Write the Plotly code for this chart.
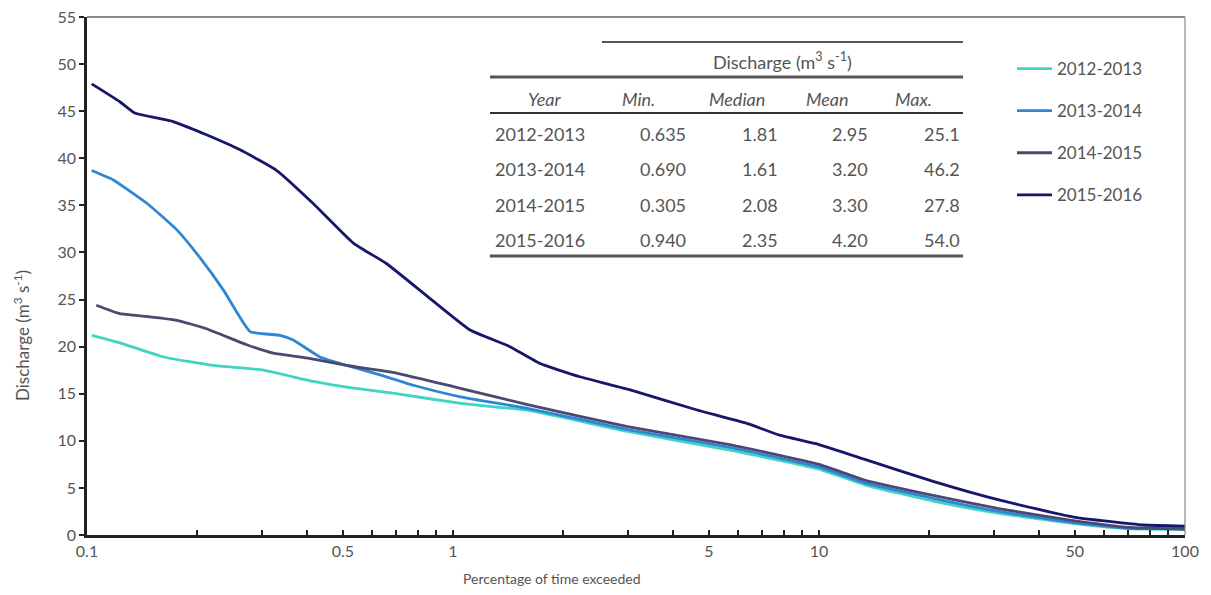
import plotly.graph_objects as go

# flow duration curves (percentage exceeded vs discharge)
years = ['2012-2013', '2013-2014', '2014-2015', '2015-2016']
colors = ['#3fd4c4', '#2f86d4', '#4b4872', '#17176a']

p_1213 = [0.103, 0.123, 0.162, 0.221, 0.303, 0.415, 0.512, 0.70, 1.04, 1.62, 3.0, 5.7, 10, 13.4, 20.5, 31, 50, 71, 100]
q_1213 = [21.2, 20.4, 18.9, 18.0, 17.5, 16.3, 15.7, 15.0, 14.0, 13.2, 11.0, 9.0, 7.0, 5.3, 3.6, 2.3, 1.2, 0.65, 0.6]

p_1314 = [0.103, 0.118, 0.146, 0.176, 0.203, 0.236, 0.279, 0.337, 0.366, 0.433, 0.512, 0.632, 0.78, 1.04, 1.62, 3.0, 5.7, 10, 13.4, 20.5, 31, 50, 71, 100]
q_1314 = [38.7, 37.7, 35.2, 32.4, 29.5, 26.0, 21.6, 21.2, 20.7, 18.9, 18.0, 17.0, 15.9, 14.7, 13.4, 11.2, 9.3, 7.2, 5.5, 3.9, 2.5, 1.3, 0.7, 0.7]

p_1415 = [0.106, 0.123, 0.146, 0.176, 0.212, 0.273, 0.323, 0.398, 0.512, 0.70, 1.04, 1.62, 3.0, 5.7, 10, 13.4, 20.5, 31, 50, 71, 100]
q_1415 = [24.4, 23.5, 23.2, 22.8, 21.9, 20.2, 19.3, 18.8, 18.0, 17.2, 15.6, 13.8, 11.5, 9.6, 7.5, 5.8, 4.2, 2.8, 1.5, 0.8, 0.6]

p_1516 = [0.103, 0.123, 0.135, 0.172, 0.212, 0.262, 0.330, 0.415, 0.534, 0.659, 0.866, 1.11, 1.43, 1.73, 2.22, 3.05, 4.62, 6.3, 7.8, 10, 13.4, 20.5, 31.2, 49.6, 77, 100]
q_1516 = [47.9, 46.0, 44.8, 43.9, 42.5, 40.9, 38.7, 35.2, 31.0, 28.8, 25.1, 21.8, 20.0, 18.2, 16.8, 15.4, 13.3, 11.9, 10.6, 9.6, 8.0, 5.7, 3.7, 1.9, 1.06, 0.95]

# inset table
tbl_header = ['Year', 'Min.', 'Median', 'Mean', 'Max.']
tbl_min = ['0.635', '0.690', '0.305', '0.940']
tbl_median = ['1.81', '1.61', '2.08', '2.35']
tbl_mean = ['2.95', '3.20', '3.30', '4.20']
tbl_max = ['25.1', '46.2', '27.8', '54.0']

x_ticks = [0.1, 0.2, 0.3, 0.4, 0.5, 0.6, 0.7, 0.8, 0.9, 1, 2, 3, 4, 5, 6, 7, 8, 9,
           10, 20, 30, 40, 50, 60, 70, 80, 90, 100]
x_labels = {0.1: '0.1', 0.5: '0.5', 1: '1', 5: '5', 10: '10', 50: '50', 100: '100'}

FONT = 'Lato'
GREY = '#555555'

# plot area in page pixels (page body has an 8px margin)
L, R, T, B = 87, 1185, 17, 535
OFF = 8
W, H = 1211 - 2 * OFF, 595 - 2 * OFF
def px(x): return (x - L) / (R - L)
def py(y): return (B - y) / (B - T)

fig = go.Figure()
series = [(p_1213, q_1213), (p_1314, q_1314), (p_1415, q_1415), (p_1516, q_1516)]
for name, col, (p, q) in zip(years, colors, series):
    fig.add_trace(go.Scatter(x=p, y=q, name=name, mode='lines', legendgroup=name,
                             line=dict(color=col, width=2.8, shape='spline', smoothing=0.4)))

shapes = [
    # frame top/right
    dict(type='line', xref='paper', yref='paper', x0=0, x1=1, y0=1, y1=1, line=dict(color='#666', width=1.5)),
    dict(type='line', xref='paper', yref='paper', x0=1, x1=1, y0=0, y1=1, line=dict(color='#888', width=1.2)),
    # table rules
    dict(type='line', xref='paper', yref='paper', x0=px(602), x1=px(963), y0=py(42), y1=py(42), line=dict(color=GREY, width=2)),
    dict(type='line', xref='paper', yref='paper', x0=px(490), x1=px(963), y0=py(77), y1=py(77), line=dict(color=GREY, width=3)),
    dict(type='line', xref='paper', yref='paper', x0=px(490), x1=px(963), y0=py(113), y1=py(113), line=dict(color='#333', width=2)),
    dict(type='line', xref='paper', yref='paper', x0=px(490), x1=px(963), y0=py(256), y1=py(256), line=dict(color=GREY, width=3)),
]

tf = dict(family=FONT, size=18, color=GREY)
ann = [dict(text='Discharge (m<sup>3</sup> s<sup>-1</sup>)', x=px(782), y=py(61), xref='paper', yref='paper',
            showarrow=False, xanchor='center', yanchor='middle', font=tf)]
hdr_x = [545, 638, 737, 827, 913]
for h, hx in zip(tbl_header, hdr_x):
    ann.append(dict(text='<i>' + h + '</i>', x=px(hx), y=py(99), xref='paper', yref='paper', showarrow=False,
                    xanchor='center', yanchor='middle', font=tf))
row_y = [134, 169, 205, 240]
col_right = [688, 780, 870, 962]
for i, yr in enumerate(years):
    ann.append(dict(text=yr, x=px(493), y=py(row_y[i]), xref='paper', yref='paper', showarrow=False,
                    xanchor='left', yanchor='middle', font=tf))
    for vals, cx in zip([tbl_min, tbl_median, tbl_mean, tbl_max], col_right):
        ann.append(dict(text=vals[i], x=px(cx), y=py(row_y[i]), xref='paper', yref='paper', showarrow=False,
                        xanchor='right', yanchor='middle', font=tf))

# y-axis title sits a bit below the axis centre in the reference
ann.append(dict(text='Discharge (m<sup>3</sup> s<sup>-1</sup>)', x=px(21), y=py(336), xref='paper', yref='paper',
                showarrow=False, textangle=-90, xanchor='center', yanchor='middle',
                font=dict(family=FONT, size=17, color=GREY)))
ann.append(dict(text='Percentage of time exceeded', x=px(552), y=py(578), xref='paper', yref='paper',
                showarrow=False, xanchor='center', yanchor='middle',
                font=dict(family=FONT, size=14, color=GREY)))

fig.update_layout(
    width=W, height=H,
    margin=dict(l=L - OFF, r=W - (R - OFF), t=T - OFF, b=H - (B - OFF), autoexpand=False),
    paper_bgcolor='white', plot_bgcolor='white',
    font=dict(family=FONT, color=GREY),
    showlegend=True,
    legend=dict(x=px(1012), y=py(51), xanchor='left', yanchor='top', bgcolor='rgba(0,0,0,0)',
                font=dict(family=FONT, size=17, color=GREY), tracegroupgap=17, itemwidth=35),
    shapes=shapes, annotations=ann,
    xaxis=dict(type='log', range=[-1, 2], tickvals=x_ticks,
               ticktext=[x_labels.get(v, '') for v in x_ticks],
               ticks='inside', ticklen=5, tickwidth=1.5, tickcolor='#222', automargin=False,
               ticklabeloverflow='allow',
               showline=True, linecolor='#222', linewidth=2.5, showgrid=False, zeroline=False,
               tickfont=dict(family=FONT, size=16, color=GREY)),
    yaxis=dict(range=[0, 55], dtick=5, ticks='outside', ticklen=5, tickwidth=1.5, tickcolor='#222',
               automargin=False, ticklabeloverflow='allow',
               showline=True, linecolor='#222', linewidth=2.5, showgrid=False, zeroline=False,
               tickfont=dict(family=FONT, size=16, color=GREY)),
)

fig.write_html('out.html')
